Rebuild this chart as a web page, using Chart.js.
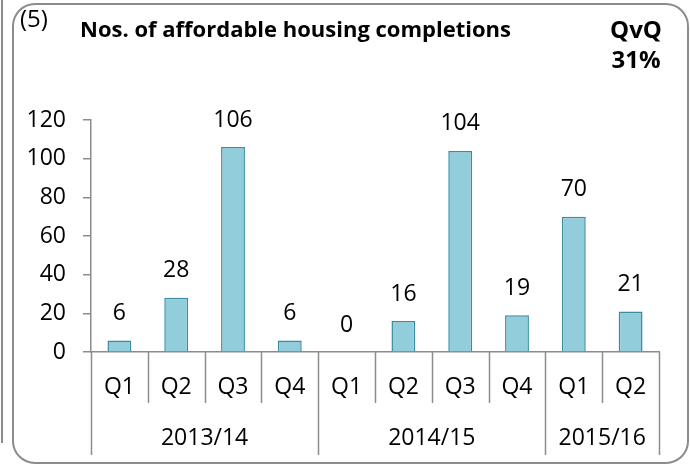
<!DOCTYPE html>
<html>
<head>
<meta charset="utf-8">
<script src="https://cdn.jsdelivr.net/npm/chart.js@4"></script>
<style>
  html, body { margin: 0; padding: 0; background: #fff; }
  #wrap { width: 690px; height: 465px; position: relative; }
</style>
</head>
<body>
<div id="wrap"><canvas id="housingChart" width="690" height="465"></canvas></div>
<script>
const quarters = ['Q1', 'Q2', 'Q3', 'Q4', 'Q1', 'Q2', 'Q3', 'Q4', 'Q1', 'Q2'];
const years = ['2013/14', '2014/15', '2015/16'];
const yearSpans = [4, 4, 2];
const completions = [6, 28, 106, 6, 0, 16, 104, 19, 70, 21];
const yMax = 120;
const yStep = 20;

const FONT = '"Open Sans", Lato, sans-serif';
const GREY = '#8c8c8c';

// frame, titles, value labels and the two-level category axis
const decor = {
    id: 'decor',
    beforeDraw(chart) {
        const ctx = chart.ctx;
        ctx.save();
        ctx.strokeStyle = GREY;
        ctx.lineWidth = 2;
        ctx.beginPath();
        ctx.roundRect(13, 4, 675, 459, 22);
        ctx.stroke();
        ctx.beginPath();
        ctx.moveTo(2, 0);
        ctx.lineTo(2, 443);
        ctx.stroke();
        ctx.restore();
    },
    afterDraw(chart) {
        const ctx = chart.ctx;
        const x = chart.scales.x;
        const y = chart.scales.y;
        const bottom = chart.chartArea.bottom;
        const w = (x.right - x.left) / quarters.length;
        ctx.save();

        // titles
        ctx.fillStyle = '#000';
        ctx.textBaseline = 'middle';
        ctx.textAlign = 'left';
        ctx.font = '24px ' + FONT;
        ctx.fillText('(5)', 20, 20);
        ctx.font = 'bold 22px ' + FONT;
        ctx.fillText('Nos. of affordable housing completions', 80, 31);
        ctx.textAlign = 'center';
        ctx.font = 'bold 24px ' + FONT;
        ctx.fillText('QvQ', 636, 31);
        ctx.fillText('31%', 636, 61);

        // value labels
        ctx.font = '23px ' + FONT;
        const meta = chart.getDatasetMeta(0);
        meta.data.forEach((bar, i) => {
            ctx.fillText(String(completions[i]), bar.x, y.getPixelForValue(completions[i]) - 27);
        });

        // separators
        ctx.strokeStyle = GREY;
        ctx.lineWidth = 1.5;
        const yearEdges = [0];
        yearSpans.forEach(s => yearEdges.push(yearEdges[yearEdges.length - 1] + s));
        for (let i = 0; i <= quarters.length; i++) {
            const px = Math.round(x.left + i * w) + 0.5;
            const long = yearEdges.includes(i);
            ctx.beginPath();
            ctx.moveTo(px, bottom);
            ctx.lineTo(px, long ? 455 : 403);
            ctx.stroke();
        }

        // quarter labels
        ctx.fillStyle = '#000';
        ctx.font = '23px ' + FONT;
        quarters.forEach((q, i) => {
            ctx.fillText(q, x.left + (i + 0.5) * w, 387);
        });

        // year labels
        years.forEach((yr, j) => {
            const mid = (yearEdges[j] + yearEdges[j + 1]) / 2;
            ctx.fillText(yr, x.left + mid * w, 438);
        });
        ctx.restore();
    }
};

new Chart(document.getElementById('housingChart'), {
    type: 'bar',
    data: {
        labels: quarters,
        datasets: [{
            data: completions,
            backgroundColor: '#92cddc',
            borderColor: '#3a8ca3',
            borderWidth: 1.5,
            categoryPercentage: 1,
            barPercentage: 0.42
        }]
    },
    options: {
        responsive: false,
        animation: false,
        layout: { padding: { left: 0, right: 31, top: 120, bottom: 0 } },
        plugins: { legend: { display: false }, tooltip: { enabled: false } },
        scales: {
            x: {
                ticks: { display: false },
                grid: { display: false },
                border: { display: true, color: GREY, width: 1.5 },
                afterFit: s => { s.height = 113; }
            },
            y: {
                min: 0, max: yMax,
                ticks: { stepSize: yStep, padding: 17, color: '#000', font: { family: FONT, size: 23 } },
                grid: { drawOnChartArea: false, drawTicks: true, tickLength: 8, color: GREY, lineWidth: 1.5 },
                border: { display: true, color: GREY, width: 1.5 },
                afterFit: s => { s.width = 91; }
            }
        }
    },
    plugins: [decor]
});
</script>
</body>
</html>
